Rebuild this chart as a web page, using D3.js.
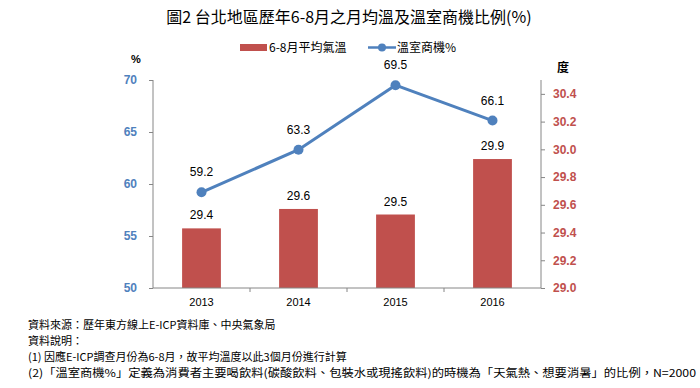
<!DOCTYPE html>
<html>
<head>
<meta charset="utf-8">
<script src="https://d3js.org/d3.v7.min.js"></script>
<style>
  body { margin: 0; background: #fff; }
  svg text { font-family: "Liberation Sans", Arial, sans-serif; }
  .cjk { font-family: "Noto Sans CJK TC", "Noto Sans CJK SC", sans-serif; }
</style>
</head>
<body>
<svg id="chart" width="700" height="388"></svg>
<script>
// data
var years = ["2013", "2014", "2015", "2016"];
var avgTemp = [29.43, 29.57, 29.53, 29.93];     // 6-8月平均氣溫 (度)
var greenhouse = [59.2, 63.3, 69.5, 66.1];      // 溫室商機%
var leftTicks = [50, 55, 60, 65, 70];
var rightTicks = [29.0, 29.2, 29.4, 29.6, 29.8, 30.0, 30.2, 30.4];
var notes = [
  "資料來源：歷年東方線上E-ICP資料庫、中央氣象局",
  "資料說明：",
  "(1) 因應E-ICP調查月份為6-8月，故平均溫度以此3個月份進行計算",
  "(2)「溫室商機%」定義為消費者主要喝飲料(碳酸飲料、包裝水或現搖飲料)的時機為「天氣熱、想要消暑」的比例，N=2000"
];

var red = "#C0504D", blue = "#4F81BD", axisGrey = "#868686";
var svg = d3.select("#chart");
var plotL = 153, plotR = 541, plotT = 80, plotB = 288;

var x = d3.scaleBand().domain(years).range([plotL, plotR]).paddingInner(0.6).paddingOuter(0.3);
var band = d3.scaleBand().domain(years).range([plotL, plotR]);
var yL = d3.scaleLinear().domain([50, 70]).range([plotB, plotT]);
var yR = d3.scaleLinear().domain([29.0, 30.5]).range([plotB, plotT]);

// title
svg.append("text").attr("class", "cjk")
  .attr("x", 349).attr("y", 23).attr("text-anchor", "middle")
  .style("font-size", "16px").attr("fill", "#000")
  .text("圖2  台北地區歷年6-8月之月均溫及溫室商機比例(%)");

// legend
var lg = svg.append("g");
lg.append("rect").attr("x", 240).attr("y", 44).attr("width", 27).attr("height", 7).attr("fill", red);
lg.append("text").attr("class", "cjk").attr("x", 269).attr("y", 52)
  .style("font-size", "12px").text("6-8月平均氣溫");
lg.append("line").attr("x1", 368).attr("x2", 396).attr("y1", 47.5).attr("y2", 47.5)
  .attr("stroke", blue).attr("stroke-width", 2.5);
lg.append("circle").attr("cx", 382).attr("cy", 47.5).attr("r", 4).attr("fill", blue);
lg.append("text").attr("class", "cjk").attr("x", 397).attr("y", 52)
  .style("font-size", "12px").text("溫室商機%");

// axis unit labels
svg.append("text").attr("x", 136).attr("y", 63).attr("text-anchor", "middle")
  .style("font-size", "11px").style("font-weight", "bold").text("%");
svg.append("text").attr("class", "cjk").attr("x", 563).attr("y", 72).attr("text-anchor", "middle")
  .style("font-size", "12px").style("font-weight", "bold").text("度");

// bars
svg.append("g").selectAll("rect").data(avgTemp).join("rect")
  .attr("x", function(d, i) { return x(years[i]); })
  .attr("width", x.bandwidth())
  .attr("y", function(d) { return yR(d); })
  .attr("height", function(d) { return plotB - yR(d); })
  .attr("fill", red);

svg.append("g").selectAll("text").data(avgTemp).join("text")
  .attr("x", function(d, i) { return x(years[i]) + x.bandwidth() / 2; })
  .attr("y", function(d) { return yR(d) - 9; })
  .attr("text-anchor", "middle").style("font-size", "12px").attr("fill", "#000")
  .text(function(d) { return d3.format(".1f")(d); });

// axes
var axL = svg.append("g").attr("transform", "translate(" + plotL + ",0)")
  .call(d3.axisLeft(yL).tickValues(leftTicks).tickSize(4).tickPadding(12));
var axR = svg.append("g").attr("transform", "translate(" + plotR + ",0)")
  .call(d3.axisRight(yR).tickValues(rightTicks).tickSize(4).tickPadding(8).tickFormat(d3.format(".1f")));
var axX = svg.append("g").attr("transform", "translate(0," + plotB + ")")
  .call(d3.axisBottom(band).tickSize(0).tickPadding(10));
axX.selectAll(".tick").append("line")
  .attr("x1", band.bandwidth() / 2).attr("x2", band.bandwidth() / 2)
  .attr("y1", 0).attr("y2", 4).attr("stroke", axisGrey);
axX.select(".tick:last-of-type").selectAll("line").remove();

[axL, axR, axX].forEach(function(a) {
  a.select(".domain").attr("stroke", axisGrey);
  a.selectAll(".tick line").attr("stroke", axisGrey);
  a.selectAll("text").style("font-family", "Liberation Sans, Arial, sans-serif");
});
axL.select(".domain").attr("d", "M0," + plotT + "V" + plotB);
axR.select(".domain").attr("d", "M0," + plotT + "V" + plotB);
axX.select(".domain").attr("d", "M" + plotL + ",0H" + plotR);
axL.selectAll("text").style("font-size", "12px").style("font-weight", "bold").attr("fill", blue);
axR.selectAll("text").style("font-size", "12px").style("font-weight", "bold").attr("fill", red);
axX.selectAll("text").style("font-size", "11px").attr("fill", "#000");

// line
var cx = function(d, i) { return band(years[i]) + band.bandwidth() / 2; };
svg.append("path").datum(greenhouse)
  .attr("fill", "none").attr("stroke", blue).attr("stroke-width", 3)
  .attr("d", d3.line().x(cx).y(function(d) { return yL(d); }));
svg.append("g").selectAll("circle").data(greenhouse).join("circle")
  .attr("cx", cx).attr("cy", function(d) { return yL(d); })
  .attr("r", 5).attr("fill", blue);
svg.append("g").selectAll("text").data(greenhouse).join("text")
  .attr("x", cx).attr("y", function(d) { return yL(d) - 16; })
  .attr("text-anchor", "middle").style("font-size", "12px").attr("fill", "#000")
  .text(function(d) { return d3.format(".1f")(d); });

// notes
svg.append("g").selectAll("text").data(notes).join("text")
  .attr("class", "cjk")
  .attr("x", 28).attr("y", function(d, i) { return 329 + i * 16; })
  .style("font-size", "11px").attr("fill", "#000")
  .attr("textLength", function(d, i) { return i == 3 ? 668 : null; })
  .attr("lengthAdjust", "spacingAndGlyphs")
  .text(function(d) { return d; });
</script>
</body>
</html>
